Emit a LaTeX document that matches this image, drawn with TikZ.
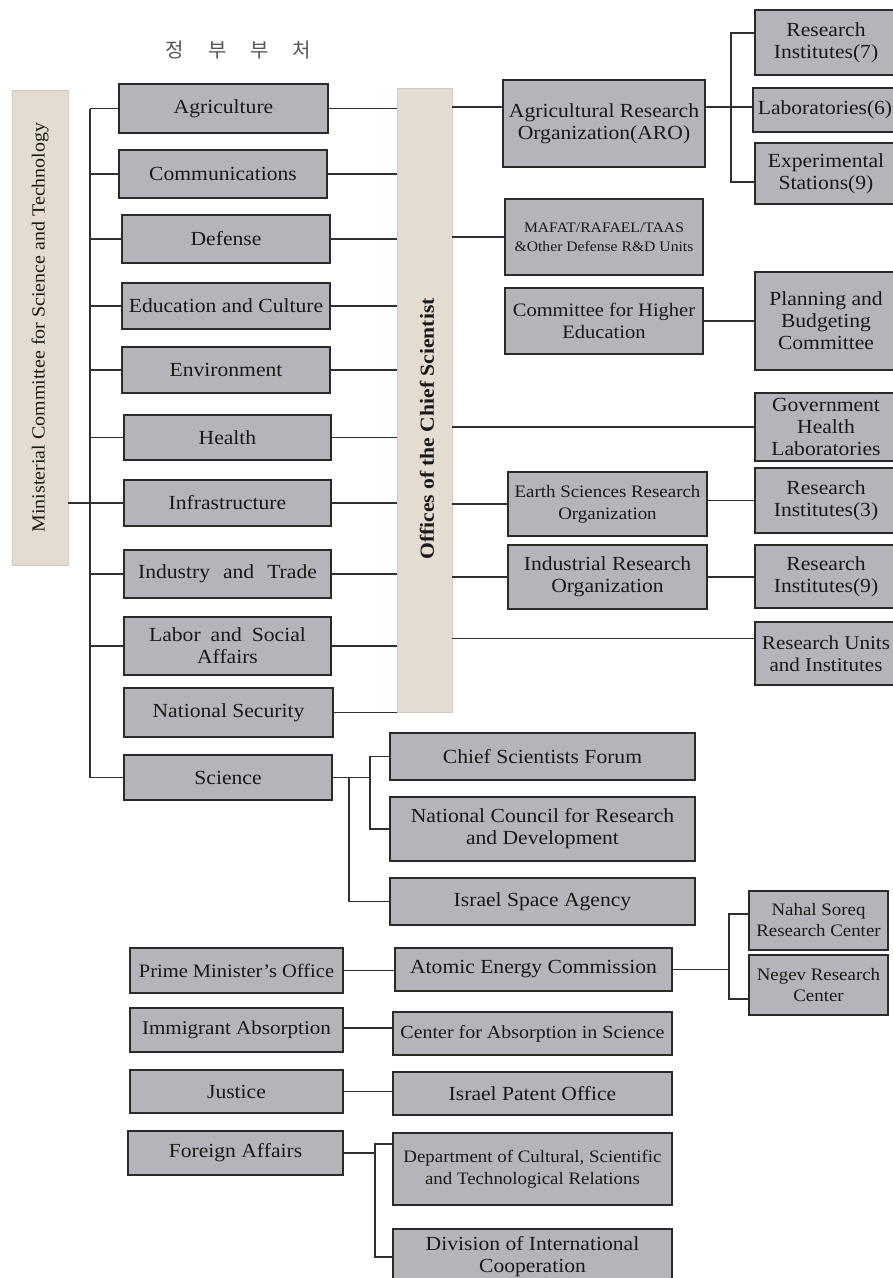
\documentclass[tikz,border=0pt]{standalone}
\usepackage{fontspec}
\setmainfont[FakeStretch=1.08]{Liberation Serif}
\newfontfamily\krfont{Noto Sans CJK KR}
\usetikzlibrary{calc}
\definecolor{boxfill}{HTML}{B4B4BB}
\definecolor{boxline}{HTML}{2A2A2A}
\definecolor{barfill}{HTML}{E4DBD1}
\definecolor{barline}{HTML}{D2CBC2}
\definecolor{connline}{HTML}{303030}
\definecolor{hdrgray}{HTML}{555555}
\begin{document}
\begin{tikzpicture}[x=1pt,y=-1pt,
  box/.style={draw=boxline, fill=boxfill, line width=1.8pt, inner sep=1pt, align=center,
    font=\fontsize{20}{22}\selectfont, text=black!90},
  bar/.style={fill=barfill, draw=barline, line width=0.8pt},
  bartext/.style={rotate=90, text=black!90},
  conn/.style={draw=connline, line width=1.9pt}]
\useasboundingbox (0,0) rectangle (893,1278);
\fill[white] (0,0) rectangle (893,1278);

% header
\node[font=\krfont\fontsize{20}{20}\selectfont, text=hdrgray] (hdr) at (238.5,50)
  {정\hspace{24pt}부\hspace{24pt}부\hspace{24pt}처};

% vertical bars
\node[bar, minimum width=56pt, minimum height=475pt, inner sep=0pt] (mcst) at (40,327.5) {};
\node[bartext, font=\fontsize{18.5}{19}\selectfont] (mcsttext) at (mcst.center)
  {Ministerial Committee for Science and Technology};
\node[bar, minimum width=55pt, minimum height=624pt, inner sep=0pt] (ocs) at (424.5,400) {};
\node[bartext, font=\bfseries\fontsize{20}{20}\selectfont] (ocstext) at (427,429)
  {Offices of the Chief Scientist};

% ministries
\node[box, minimum width=209pt, minimum height=49pt] (agr) at (223.5,108.5) {Agriculture};
\node[box, minimum width=208pt, minimum height=48pt] (com) at (223,174) {Communications};
\node[box, minimum width=208pt, minimum height=48pt] (def) at (226,239) {Defense};
\node[box, minimum width=208pt, minimum height=46pt] (edu) at (226,306) {Education and Culture};
\node[box, minimum width=208pt, minimum height=46pt] (env) at (226,370) {Environment};
\node[box, minimum width=207pt, minimum height=45pt] (hea) at (227.5,437.5) {Health};
\node[box, minimum width=207pt, minimum height=46pt] (inf) at (227.5,503) {Infrastructure};
\node[box, minimum width=207pt, minimum height=48pt] (ind) at (227.5,574) {Industry\hspace{0.65em}and\hspace{0.65em}Trade};
\node[box, minimum width=207pt, minimum height=58pt] (lab) at (227.5,646) {Labor\hspace{0.5em}and\hspace{0.5em}Social\\Affairs};
\node[box, minimum width=209pt, minimum height=49pt] (nat) at (228.5,712.5) {National Security};
\node[box, minimum width=208pt, minimum height=45pt] (sci) at (228,777.5) {Science};

% spine on the left
\coordinate (spine) at (90,0);
\foreach \n in {agr,com,def,edu,env,hea,inf,ind,lab,sci}
  \draw[conn] (\n.west) -- (\n.west -| spine);
\draw[conn] (agr.west -| spine) -- (sci.west -| spine);
\draw[conn] (inf.west -| mcst.east) -- (inf.west -| spine);

% ministries to the offices bar
\foreach \n in {agr,com,def,edu,env,hea,inf,ind,lab,nat}
  \draw[conn] (\n.east) -- (\n.east -| ocs.west);

% agricultural research organization
\node[box, minimum width=202pt, minimum height=87pt] (aro) at (604,123.5) {Agricultural Research\\Organization(ARO)};
\node[box, minimum width=142pt, minimum height=65pt] (ri7) at (826,42.5) {Research\\Institutes(7)};
\node[box, minimum width=144pt, minimum height=44pt] (lb6) at (825,110) {Laboratories(6)};
\node[box, minimum width=142pt, minimum height=61pt] (exs) at (826,173.5) {Experimental\\Stations(9)};
\coordinate (aroy) at (0,107);
\coordinate (brk) at (731,0);
\draw[conn] (aroy -| ocs.east) -- (aroy -| aro.west);
\draw[conn] (aroy -| aro.east) -- (aroy -| lb6.west);
\draw[conn] ([yshift=9.5pt]ri7.west) -| ([yshift=-8.5pt]exs.west -| brk) -- ([yshift=-8.5pt]exs.west);

% defense
\node[box, minimum width=198pt, minimum height=76pt, font=\fontsize{14.5}{19}\selectfont] (maf) at (604,237)
  {MAFAT/RAFAEL/TAAS\\\&Other Defense R\&D Units};
\draw[conn] (maf.west -| ocs.east) -- (maf.west);

% higher education
\node[box, minimum width=198pt, minimum height=66pt, font=\fontsize{19}{22}\selectfont] (che) at (604,321) {Committee for Higher\\Education};
\node[box, minimum width=142pt, minimum height=98pt] (pbc) at (826,321) {Planning and\\Budgeting\\Committee};
\draw[conn] (che.east) -- (pbc.west);

% health
\node[box, minimum width=142pt, minimum height=68pt] (ghl) at (826,427) {Government\\Health\\Laboratories};
\draw[conn] (ghl.west -| ocs.east) -- (ghl.west);

% earth sciences
\node[box, minimum width=199pt, minimum height=64pt, font=\fontsize{17.5}{22}\selectfont] (esr) at (607.5,504) {Earth Sciences Research\\Organization};
\node[box, minimum width=142pt, minimum height=65pt] (ri3) at (826,500.5) {Research\\Institutes(3)};
\draw[conn] (esr.west -| ocs.east) -- (esr.west);
\draw[conn] (ri3.west -| esr.east) -- (ri3.west);

% industrial research
\node[box, minimum width=199pt, minimum height=64pt] (irr) at (607.5,577) {Industrial Research\\Organization};
\node[box, minimum width=142pt, minimum height=63pt] (ri9) at (826,576.5) {Research\\Institutes(9)};
\draw[conn] (irr.west -| ocs.east) -- (irr.west);
\draw[conn] (irr.east) -- (irr.east -| ri9.west);

% labor
\node[box, minimum width=142pt, minimum height=63pt, font=\fontsize{19.5}{22}\selectfont] (rui) at (826,653.5) {Research Units\\and Institutes};
\draw[conn] ([yshift=15pt]rui.west -| ocs.east) -- ([yshift=15pt]rui.west);

% science
\node[box, minimum width=305pt, minimum height=47pt] (csf) at (542.5,756.5) {Chief Scientists Forum};
\node[box, minimum width=305pt, minimum height=64pt] (ncr) at (542.5,829) {National Council for Research\\and Development};
\node[box, minimum width=305pt, minimum height=47pt] (isa) at (542.5,901.5) {Israel Space Agency};
\coordinate (sb1) at (370,0);
\coordinate (sb2) at (349,0);
\draw[conn] (sci.east) -- (sci.east -| sb1);
\draw[conn] (csf.west) -| (ncr.west -| sb1) -- (ncr.west);
\draw[conn] (sci.east -| sb2) |- (isa.west);

% prime minister
\node[box, minimum width=213pt, minimum height=45pt, font=\fontsize{19}{22}\selectfont] (pmo) at (236.5,970.5) {Prime Minister's Office};
\node[box, minimum width=277pt, minimum height=43pt] (aec) at (533.5,969.5) {Atomic Energy Commission};
\node[box, minimum width=139pt, minimum height=59pt, font=\fontsize{17.5}{21}\selectfont] (nsr) at (818.5,920.5) {Nahal Soreq\\Research Center};
\node[box, minimum width=139pt, minimum height=60pt, font=\fontsize{17.5}{21}\selectfont] (neg) at (818.5,985) {Negev Research\\Center};
\coordinate (nb) at (729,0);
\draw[conn] (pmo.east) -- (pmo.east -| aec.west);
\draw[conn] (aec.east) -- (aec.east -| nb);
\draw[conn] ([yshift=6.5pt]nsr.west) -| ([yshift=-14pt]neg.west -| nb) -- ([yshift=-14pt]neg.west);

% immigrant absorption
\node[box, minimum width=213pt, minimum height=44pt, font=\fontsize{19.5}{22}\selectfont] (ima) at (236.5,1030) {Immigrant Absorption};
\node[box, minimum width=279pt, minimum height=43pt, font=\fontsize{18.5}{22}\selectfont] (cas) at (532.5,1033.5) {Center for Absorption in Science};
\draw[conn] ([yshift=2pt]ima.east) -- ([yshift=2pt]ima.east -| cas.west);

% justice
\node[box, minimum width=213pt, minimum height=43pt] (jus) at (236.5,1091.5) {Justice};
\node[box, minimum width=279pt, minimum height=43pt] (ipo) at (532.5,1093.5) {Israel Patent Office};
\draw[conn] (jus.east) -- (jus.east -| ipo.west);

% foreign affairs
\node[box, minimum width=215pt, minimum height=44pt] (fa) at (235.5,1153) {Foreign Affairs};
\node[box, minimum width=279pt, minimum height=72pt, font=\fontsize{17.5}{22}\selectfont] (dcs) at (532.5,1169) {Department of Cultural, Scientific\\and Technological Relations};
\node[box, minimum width=279pt, minimum height=56pt] (dic) at (532.5,1257) {Division of International\\Cooperation};
\coordinate (fb) at (375,0);
\draw[conn] (fa.east) -- (fa.east -| fb);
\draw[conn] ([yshift=25pt]dcs.west) -| (dic.west -| fb) -- (dic.west);
\end{tikzpicture}
\end{document}
